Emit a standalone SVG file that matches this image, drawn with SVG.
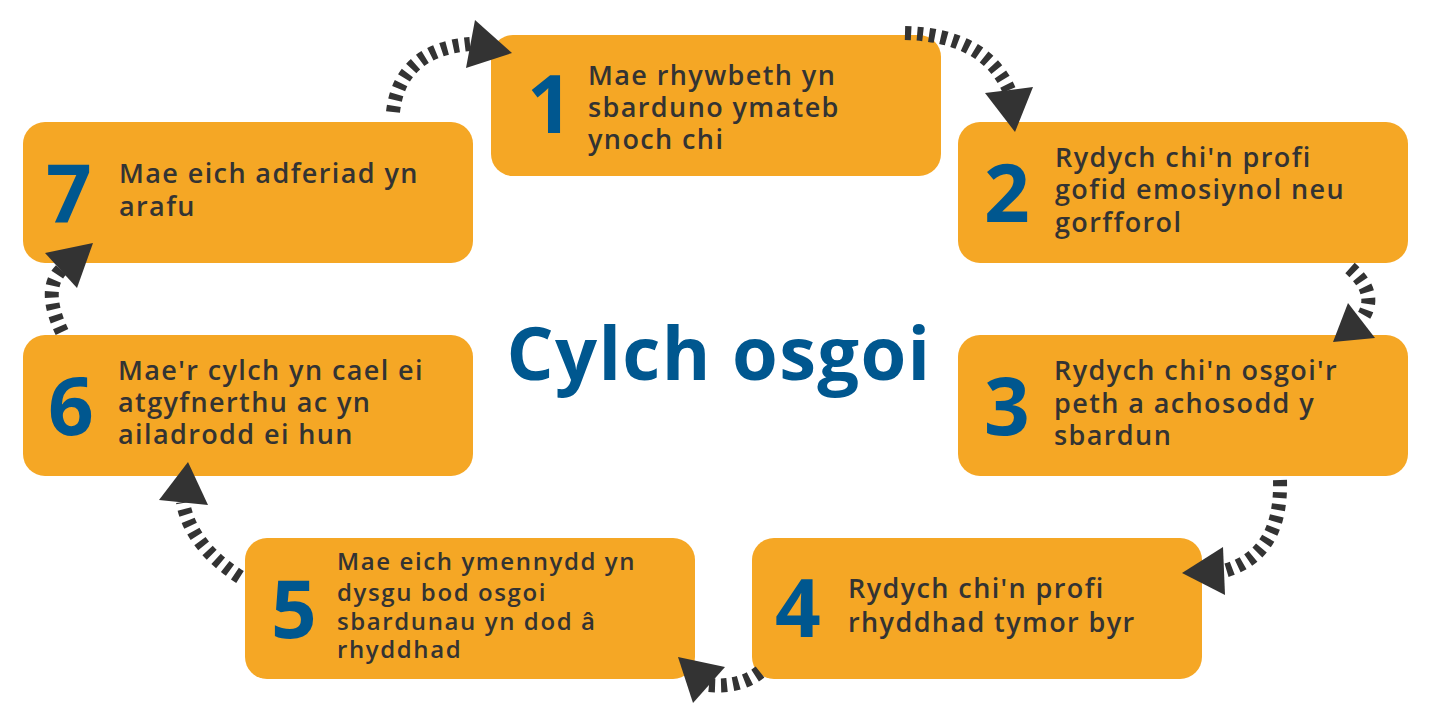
<svg xmlns="http://www.w3.org/2000/svg" width="1430" height="720" viewBox="0 0 1430 720">
<style>
.box{fill:#F5A725}
.num{font-family:"Open Sans","Liberation Sans",sans-serif;font-weight:700;font-size:80px;fill:#00578F}
.txt{font-family:"Open Sans","Liberation Sans",sans-serif;font-weight:600;font-size:27px;letter-spacing:1.4px;fill:#333333}
.txt5{font-size:24px;letter-spacing:1.6px}
.title{font-family:"Open Sans","Liberation Sans",sans-serif;font-weight:700;font-size:74px;letter-spacing:1.3px;fill:#00578F}
.dash{fill:none;stroke:#333333;stroke-width:14;stroke-dasharray:6 6}
.head{fill:#333333}
</style>
<rect width="1430" height="720" fill="#FFFFFF"/>
<g id="node1">
<rect class="box" x="491" y="35" width="450" height="141" rx="22"/>
<text class="num" x="527" y="133">1</text>
<text class="txt"><tspan x="588" y="85">Mae rhywbeth yn</tspan><tspan x="588" y="117">sbarduno ymateb</tspan><tspan x="588" y="149">ynoch chi</tspan></text>
</g>
<g id="node2">
<rect class="box" x="958" y="122" width="450" height="141" rx="22"/>
<text class="num" x="984" y="222">2</text>
<text class="txt"><tspan x="1055" y="167">Rydych chi'n profi</tspan><tspan x="1055" y="199">gofid emosiynol neu</tspan><tspan x="1055" y="232">gorfforol</tspan></text>
</g>
<g id="node3">
<rect class="box" x="958" y="335" width="450" height="141" rx="22"/>
<text class="num" x="984" y="435">3</text>
<text class="txt"><tspan x="1054" y="380">Rydych chi'n osgoi'r</tspan><tspan x="1054" y="413">peth a achosodd y</tspan><tspan x="1054" y="445">sbardun</tspan></text>
</g>
<g id="node4">
<rect class="box" x="752" y="538" width="450" height="141" rx="22"/>
<text class="num" x="775" y="637">4</text>
<text class="txt"><tspan x="848" y="598">Rydych chi'n profi</tspan><tspan x="848" y="632">rhyddhad tymor byr</tspan></text>
</g>
<g id="node5">
<rect class="box" x="245" y="538" width="450" height="141" rx="22"/>
<text class="num" x="271" y="638">5</text>
<text class="txt txt5"><tspan x="337" y="570">Mae eich ymennydd yn</tspan><tspan x="337" y="601">dysgu bod osgoi</tspan><tspan x="337" y="630">sbardunau yn dod â</tspan><tspan x="337" y="658">rhyddhad</tspan></text>
</g>
<g id="node6">
<rect class="box" x="23" y="335" width="450" height="141" rx="22"/>
<text class="num" x="48" y="435">6</text>
<text class="txt"><tspan x="118" y="380">Mae'r cylch yn cael ei</tspan><tspan x="118" y="412">atgyfnerthu ac yn</tspan><tspan x="118" y="444">ailadrodd ei hun</tspan></text>
</g>
<g id="node7">
<rect class="box" x="23" y="122" width="450" height="141" rx="22"/>
<text class="num" x="46" y="222">7</text>
<text class="txt"><tspan x="119" y="183">Mae eich adferiad yn</tspan><tspan x="119" y="216">arafu</tspan></text>
</g>
<g id="title">
<text class="title" x="719" y="380" text-anchor="middle">Cylch osgoi</text>
</g>
<g id="connectors">
<path class="dash" d="M393,112 Q400,50 470,44"/>
<polygon class="head" points="475,20 512,53 466,68"/>
<path class="dash" d="M905,33 Q985,35 1009,90"/>
<polygon class="head" points="985,93 1033,87 1015,132"/>
<path class="dash" d="M1350,268 Q1380,295 1361,320"/>
<polygon class="head" points="1348,303 1375,338 1333,342"/>
<path class="dash" d="M1280,480 Q1282,555 1224,571"/>
<polygon class="head" points="1223,547 1182,573 1225,595"/>
<path class="dash" d="M760,672 Q740,688 709,685"/>
<polygon class="head" points="678,657 725,667 693,703"/>
<path class="dash" d="M240,577 Q190,545 183,502"/>
<polygon class="head" points="188,462 208,505 159,500"/>
<path class="dash" d="M62,332 Q42,290 61,270"/>
<polygon class="head" points="45,253 93,243 77,288"/>
</g>
</svg>
